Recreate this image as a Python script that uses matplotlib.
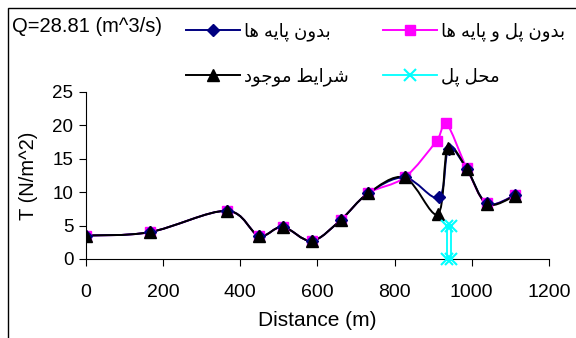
import matplotlib
matplotlib.use("Agg")
import matplotlib.pyplot as plt
from matplotlib.path import Path
from matplotlib.patches import PathPatch, Rectangle
from matplotlib.lines import Line2D

plt.rcParams['font.family'] = ['Liberation Sans', 'DejaVu Sans']

# data
x_common = [0, 165, 365, 448, 510, 585, 660, 731, 826]
y_common = [3.5, 4.0, 7.2, 3.5, 4.8, 2.7, 5.8, 9.8, 12.2]

x_nopier = x_common + [915, 940, 987, 1039, 1111]
y_nopier = y_common + [9.2, 16.5, 13.5, 8.3, 9.5]

x_nobridge = x_common + [909, 934, 987, 1039, 1111]
y_nobridge = y_common + [17.7, 20.3, 13.6, 8.3, 9.5]

x_existing = x_common + [912, 938, 987, 1039, 1111]
y_existing = y_common + [6.7, 16.6, 13.5, 8.2, 9.4]

x_bridge = [935, 935, 946, 946]
y_bridge = [0, 5, 5, 0]

label_nopier = "بدون پایه ها"
label_nobridge = "بدون پل و پایه ها"
label_existing = "شرایط موجود"
label_bridge = "محل پل"
title_text = "Q=28.81 (m^3/s)"

# presentation forms: isolated, final, initial, medial
FORMS = {
    'ا': ('\uFE8D', '\uFE8E', None, None),
    'ب': ('\uFE8F', '\uFE90', '\uFE91', '\uFE92'),
    'پ': ('\uFB56', '\uFB57', '\uFB58', '\uFB59'),
    'ج': ('\uFE9D', '\uFE9E', '\uFE9F', '\uFEA0'),
    'ح': ('\uFEA1', '\uFEA2', '\uFEA3', '\uFEA4'),
    'د': ('\uFEA9', '\uFEAA', None, None),
    'ر': ('\uFEAD', '\uFEAE', None, None),
    'ش': ('\uFEB5', '\uFEB6', '\uFEB7', '\uFEB8'),
    'ط': ('\uFEC1', '\uFEC2', '\uFEC3', '\uFEC4'),
    'ل': ('\uFEDD', '\uFEDE', '\uFEDF', '\uFEE0'),
    'م': ('\uFEE1', '\uFEE2', '\uFEE3', '\uFEE4'),
    'ن': ('\uFEE5', '\uFEE6', '\uFEE7', '\uFEE8'),
    'ه': ('\uFEE9', '\uFEEA', '\uFEEB', '\uFEEC'),
    'و': ('\uFEED', '\uFEEE', None, None),
    'ی': ('\uFBFC', '\uFBFD', '\uFBFE', '\uFBFF'),
}


def shape(s):
    # join letters and reverse to visual order (matplotlib has no bidi)
    out = []
    for i, c in enumerate(s):
        if c not in FORMS:
            out.append(c)
            continue
        prev = s[i - 1] if i > 0 else ''
        nxt = s[i + 1] if i + 1 < len(s) else ''
        join_prev = prev in FORMS and FORMS[prev][2] is not None
        join_next = FORMS[c][2] is not None and nxt in FORMS
        iso, fin, ini, med = FORMS[c]
        if join_prev and join_next:
            out.append(med)
        elif join_prev:
            out.append(fin)
        elif join_next:
            out.append(ini)
        else:
            out.append(iso)
    return ''.join(reversed(out))


def smooth_path(xs, ys):
    # excel-like smoothed line as cubic bezier
    pts = list(zip(xs, ys))
    verts = [pts[0]]
    codes = [Path.MOVETO]
    n = len(pts)
    for i in range(n - 1):
        p0 = pts[i - 1] if i > 0 else pts[i]
        p1 = pts[i]
        p2 = pts[i + 1]
        p3 = pts[i + 2] if i + 2 < n else pts[i + 1]
        c1 = (p1[0] + (p2[0] - p0[0]) / 6, p1[1] + (p2[1] - p0[1]) / 6)
        c2 = (p2[0] - (p3[0] - p1[0]) / 6, p2[1] - (p3[1] - p1[1]) / 6)
        verts += [c1, c2, p2]
        codes += [Path.CURVE4] * 3
    return Path(verts, codes)


fig = plt.figure(figsize=(5.76, 3.38), dpi=100)
ax = fig.add_axes([0.149, 0.234, 0.804, 0.494])

series = [
    (x_nobridge, y_nobridge, '#FF00FF', 's', 6.5, label_nobridge),
    (x_nopier, y_nopier, '#000080', 'D', 6.5, label_nopier),
    (x_existing, y_existing, 'black', '^', 8.5, label_existing),
]
handles = {}
for xs, ys, col, mk, ms, lab in series:
    ax.add_patch(PathPatch(smooth_path(xs, ys), facecolor='none',
                           edgecolor=col, lw=1.4, zorder=2))
    ax.plot(xs, ys, linestyle='none', marker=mk, color=col, ms=ms,
            mec=col, zorder=3)
    handles[lab] = Line2D([], [], color=col, marker=mk, ms=ms, lw=1.4)

ax.plot(x_bridge, y_bridge, color='cyan', lw=1.3, marker='x', ms=8,
        mew=1.5, zorder=4, clip_on=False)
handles[label_bridge] = Line2D([], [], color='cyan', marker='x', ms=8,
                               mew=1.5, lw=1.3)

ax.set_xlim(0, 1200)
ax.set_ylim(0, 25)
ax.set_xticks(range(0, 1201, 200))
ax.set_yticks(range(0, 26, 5))
ax.spines['top'].set_visible(False)
ax.spines['right'].set_visible(False)
ax.tick_params(length=5, direction='out')
ax.tick_params(axis='x', labelsize=14, pad=13)
ax.tick_params(axis='y', labelsize=13.5, pad=4)
ax.set_xlabel("Distance (m)", fontsize=15, labelpad=7)
ax.set_ylabel("T (N/m^2)", fontsize=14.5, labelpad=10)

order = [label_nopier, label_existing, label_nobridge, label_bridge]
fig.legend([handles[k] for k in order], [shape(k) for k in order],
           ncol=2, loc='upper left', bbox_to_anchor=(186 / 576, 1 - 22 / 338),
           frameon=False, fontsize=13, handlelength=3.0,
           handletextpad=0.2, columnspacing=1.9, labelspacing=1.5,
           borderpad=0, borderaxespad=0)

fig.text(12 / 576, 1 - 26 / 338, title_text, fontsize=14.5, va='center')

fig.patches.append(Rectangle((8 / 576, -0.1), 1.2, 1.1 - 8 / 338,
                             transform=fig.transFigure, fill=False,
                             lw=1, edgecolor='black'))

fig.savefig("out.png", dpi=100)
